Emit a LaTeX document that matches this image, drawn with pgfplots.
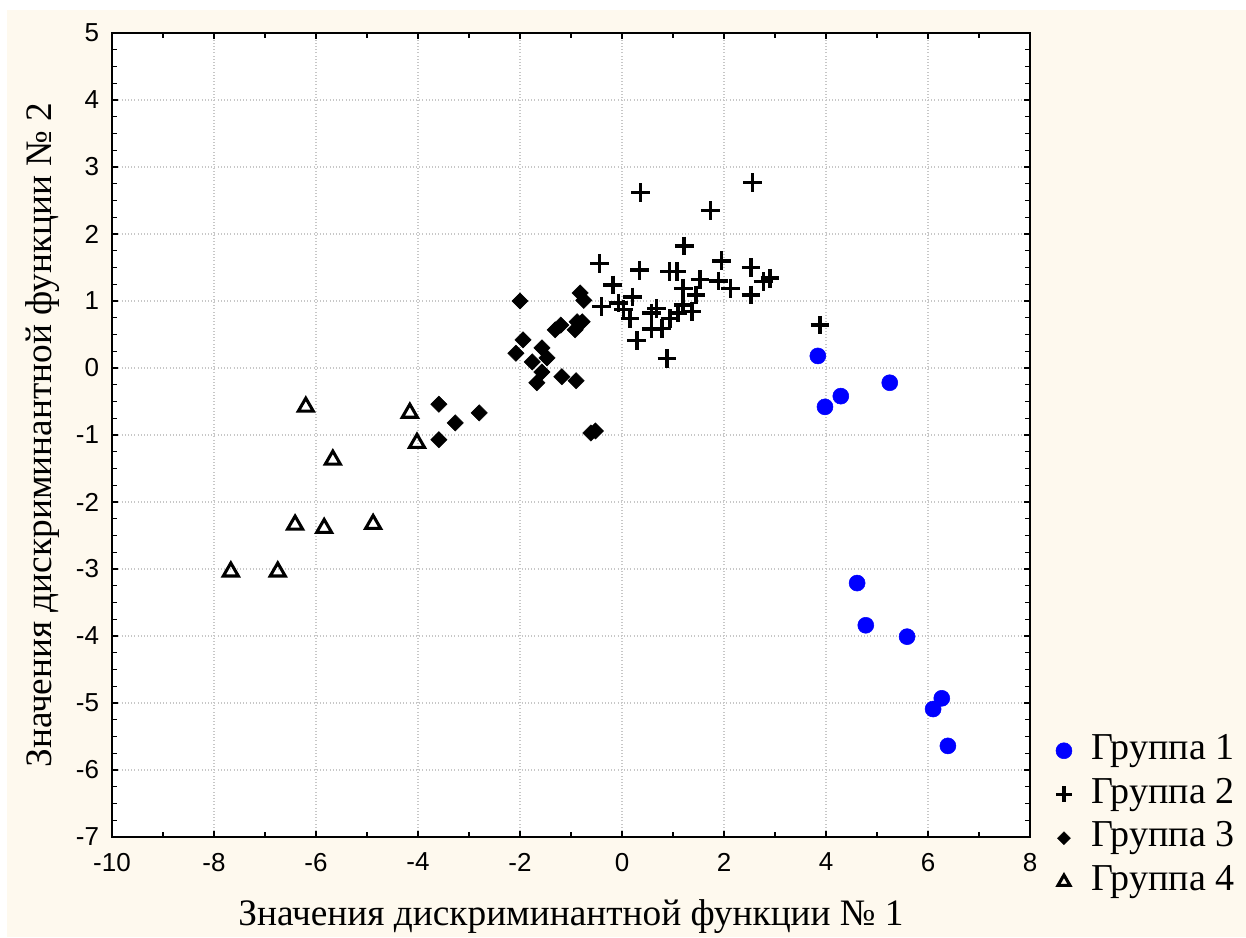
\documentclass[border=0pt]{standalone}
\usepackage{fontspec}
\setmainfont{Liberation Serif}
\newfontfamily\sansf{Liberation Sans}
\usepackage{pgfplots}
\pgfplotsset{compat=1.18}
\definecolor{cream}{RGB}{254,249,238}
\definecolor{gblue}{RGB}{0,0,255}

\begin{document}
\begin{tikzpicture}
\fill[white] (-84pt,-75pt) rectangle (850.5pt,627.75pt);
\fill[cream] (-78.75pt,-75pt) rectangle (850.5pt,620.25pt);
\begin{axis}[
 scale only axis, width=688.5pt, height=603pt,
 at={(0,0)}, anchor=south west,
 xmin=-10, xmax=8, ymin=-7, ymax=5,
 xtick={-10,-8,...,8}, ytick={-7,-6,...,5},
 minor x tick num=1, minor y tick num=3,
 tick align=inside, major tick length=4.5pt, minor tick length=4pt,
 every tick/.style={black, line width=1pt},
 axis line style={line width=1.2pt},
 axis background/.style={fill=white},
 grid=major, major grid style={dotted, line width=0.8pt, black!22},
 /pgf/number format/assume math mode=true,
 every tick label/.append style={font=\sansf\fontsize{19.5}{19.5}\selectfont},
 xticklabel style={anchor=north, yshift=-8.5pt},
 yticklabel style={anchor=east, xshift=-6.2pt},
 label style={font=\fontsize{28}{28}\selectfont},
 xlabel={Значения дискриминантной функции № 1},
 ylabel={Значения дискриминантной функции № 2},
 xlabel style={at={(axis description cs:0.5,-0.1095)}, anchor=base},
 ylabel style={at={(axis description cs:-0.0654,0.5)}, anchor=base},
 legend style={draw=none, fill=none, font=\fontsize{28.5}{28.5}\selectfont,
   at={(axis description cs:1.028,0.13)}, anchor=north west,
   row sep=5.8pt, column sep=13.5pt, inner sep=0pt,
   nodes={inner sep=1pt, text height=19pt, text depth=6pt}},
 legend cell align=left,
]
\addplot[only marks, mark=*, mark size=6pt, gblue] coordinates {
 (3.84,0.18) (3.98,-0.58) (4.29,-0.42) (5.25,-0.22) (4.61,-3.21)
 (4.78,-3.84) (5.59,-4.01) (6.27,-4.93) (6.10,-5.09) (6.39,-5.64)
};
\addlegendentry{Группа 1}
\addplot[only marks, mark=+, mark size=7pt, black, mark options={line width=2.6pt},
  legend image post style={mark size=6pt}] coordinates {
 (0.36,2.62) (2.56,2.77) (1.73,2.35) (1.22,1.82)
 (-0.44,1.56) (0.34,1.46) (0.93,1.44) (1.08,1.44) (1.95,1.60) (2.53,1.50)
 (2.90,1.34) (2.77,1.29) (2.53,1.09) (2.13,1.19) (1.89,1.30) (1.53,1.32)
 (1.20,1.19) (1.45,1.09) (-0.18,1.24) (0.21,1.06) (-0.40,0.92) (-0.07,0.97)
 (0.03,0.87) (0.16,0.74) (0.68,0.89) (0.58,0.82) (1.37,0.84) (1.20,0.94)
 (0.94,0.74) (1.10,0.82) (0.58,0.58) (0.78,0.59) (0.29,0.41) (0.88,0.14)
 (3.88,0.64)
};
\addlegendentry{Группа 2}
\addplot[only marks, mark=square*, mark size=4.3pt, mark options={rotate=45}, black,
  legend image post style={mark size=3.4pt}] coordinates {
 (-2.00,1.00) (-0.82,1.12) (-0.75,1.01) (-1.31,0.57) (-1.20,0.64) (-0.92,0.57)
 (-0.78,0.69) (-0.88,0.69) (-1.94,0.42) (-2.08,0.22) (-1.57,0.30) (-1.47,0.15)
 (-1.76,0.09) (-1.57,-0.06) (-1.67,-0.22) (-1.18,-0.13) (-0.90,-0.19)
 (-3.59,-0.54) (-3.27,-0.82) (-2.80,-0.67) (-3.59,-1.07) (-0.61,-0.97) (-0.52,-0.94)
};
\addlegendentry{Группа 3}
\addplot[only marks, mark=triangle, mark size=6.5pt, black, mark options={line width=2.3pt},
  legend image post style={mark size=5.2pt}] coordinates {
 (-7.67,-3.04) (-6.75,-3.04) (-6.41,-2.34) (-5.84,-2.39) (-4.88,-2.33)
 (-6.20,-0.58) (-5.67,-1.37) (-4.16,-0.67) (-4.02,-1.12)
};
\addlegendentry{Группа 4}
\end{axis}
\end{tikzpicture}
\end{document}
